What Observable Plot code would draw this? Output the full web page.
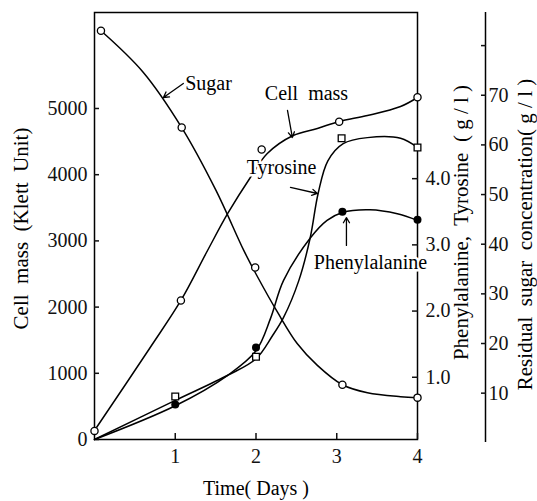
<!DOCTYPE html>
<html><head><meta charset="utf-8">
<script src="https://cdn.jsdelivr.net/npm/d3@7"></script>
<script src="https://cdn.jsdelivr.net/npm/@observablehq/plot@0.6"></script>
<style>body{margin:0;background:#fff}</style>
</head><body><div id="chart"></div>
<script>
// ---- tick labels ----
const xTicks = [1, 2, 3, 4];
const cellTicks = [0, 1000, 2000, 3000, 4000, 5000];
const aminoTicks = [1.0, 2.0, 3.0, 4.0];
const sugarTicks = [10, 20, 30, 40, 50, 60, 70, 80];
const sugarLabeled = [10, 20, 30, 40, 50, 60, 70];

// ---- measured points ----
const cellDays = [0, 1.07, 2.07, 3.03, 4];
const cellMass = [130, 2100, 4380, 4800, 5170];          // Klett unit
const sugarDays = [0.08, 1.08, 1.99, 3.07, 4];
const sugar = [83.0, 63.5, 35.3, 11.7, 9.1];              // g/l
const tyrDays = [1, 2, 3.06, 4];
const tyrosine = [0.71, 1.31, 4.61, 4.47];                // g/l
const pheDays = [1, 2, 3.07, 4];
const phenylalanine = [0.59, 1.45, 3.50, 3.38];           // g/l

// ---- smooth fitted curves ----
const cellFitDays = [0, 0.69, 1.07, 1.40, 1.65, 1.93, 2.14, 2.46, 2.76, 3.03, 3.38, 3.79, 4];
const cellFit = [136, 1390, 2100, 2855, 3414, 3958, 4320, 4592, 4698, 4804, 4894, 5030, 5166];
const sugarFitDays = [0.08, 0.6, 1.08, 1.5, 1.85, 2.0, 2.27, 2.51, 2.76, 3.07, 3.38, 3.79, 4];
const sugarFit = [83.0, 74.7, 63.5, 51.0, 38.7, 34.0, 26.2, 20.0, 15.6, 11.7, 10.1, 9.3, 9.1];
const tyrFitDays = [0, 1.0, 1.65, 2.0, 2.2, 2.34, 2.53, 2.67, 2.77, 2.89, 3.08, 3.38, 3.79, 4];
const tyrFit = [0.06, 0.65, 1.03, 1.28, 1.62, 1.90, 2.46, 3.10, 3.78, 4.27, 4.53, 4.62, 4.61, 4.47];
const pheFitDays = [0, 1.0, 1.65, 2.0, 2.18, 2.34, 2.67, 2.88, 3.07, 3.41, 3.75, 4];
const pheFit = [0.06, 0.57, 1.03, 1.40, 1.89, 2.46, 3.10, 3.37, 3.49, 3.53, 3.47, 3.37];

// ---- annotation labels (centre: day, Klett-unit position) ----
const noteText = ["Sugar", "Cell  mass", "Tyrosine", "Phenylalanine"];
const noteDay = [1.412, 2.625, 2.316, 3.418];
const noteVal = [5378, 5227, 4109, 2674];
const arrowFromDay = [1.10, 2.39, 2.427, 3.12];
const arrowFromVal = [5378, 4970, 3807, 2931];
const arrowToDay = [0.854, 2.45, 2.76, 3.12];
const arrowToVal = [5166, 4562, 3716, 3353];

// secondary axes expressed in the Klett-unit (left) scale
const AA_K = 1000, AA_OFF = -60;
const SUG_K = 75, SUG_OFF = -50;
const aaY = v => v * AA_K + AA_OFF;
const sugY = v => v * SUG_K + SUG_OFF;

const pts = (xs, ys, f = d => d) => xs.map((x, i) => ({x, y: f(ys[i])}));
const notes = noteText.map((t, i) => ({t, x: noteDay[i], y: noteVal[i]}));
const arrows = arrowFromDay.map((d, i) => ({x1: d, y1: arrowFromVal[i], x2: arrowToDay[i], y2: arrowToVal[i]}));

const font = "'Liberation Serif', 'Times New Roman', serif";
const lineOpts = {x: "x", y: "y", stroke: "black", strokeWidth: 1.5, curve: "catmull-rom"};
const titleOpts = {rotate: -90, textAnchor: "middle", lineAnchor: "middle", fontSize: 21, fill: "black", fontFamily: font};

const chart = Plot.plot({
  width: 537, height: 501,
  marginLeft: 94, marginRight: 120, marginTop: 12, marginBottom: 62,
  x: {domain: [0, 4]},
  y: {domain: [0, 6450]},
  style: {fontFamily: font, fontSize: "20px", color: "#111", background: "#fff", overflow: "visible"},
  marks: [
    Plot.frame({stroke: "black", strokeWidth: 1.5}),
    Plot.ruleX([4], {dx: 68, stroke: "black", strokeWidth: 1.5, insetBottom: -3}),
    Plot.axisY({anchor: "left", ticks: cellTicks, tickSize: 5, dx: 5, tickPadding: 7, strokeWidth: 1.5,
      tickFormat: d => String(d), label: null, fontSize: 20, fontFamily: font}),
    Plot.axisY({anchor: "right", ticks: aminoTicks.map(aaY), tickSize: 6, dx: -6, tickPadding: 8, strokeWidth: 1.5,
      tickFormat: d => ((d - AA_OFF) / AA_K).toFixed(1), label: null, fontSize: 20, fontFamily: font}),
    Plot.axisY({anchor: "right", ticks: sugarTicks.map(sugY), tickSize: 5, dx: 63, tickPadding: 3, strokeWidth: 1.5,
      tickFormat: d => { const s = Math.round((d - SUG_OFF) / SUG_K); return sugarLabeled.includes(s) ? String(s) : ""; },
      label: null, fontSize: 20, fontFamily: font}),
    Plot.axisX({anchor: "bottom", ticks: xTicks, tickSize: 6, dy: -6, tickPadding: 9, strokeWidth: 1.5,
      tickFormat: d => String(d), label: null, fontSize: 20, fontFamily: font}),

    Plot.line(pts(cellFitDays, cellFit), lineOpts),
    Plot.line(pts(sugarFitDays, sugarFit, sugY), lineOpts),
    Plot.line(pts(tyrFitDays, tyrFit, aaY), lineOpts),
    Plot.line(pts(pheFitDays, pheFit, aaY), lineOpts),

    Plot.dot(pts(cellDays, cellMass), {x: "x", y: "y", r: 3.6, stroke: "black", fill: "white", strokeWidth: 1.3}),
    Plot.dot(pts(sugarDays, sugar, sugY), {x: "x", y: "y", r: 3.6, stroke: "black", fill: "white", strokeWidth: 1.3}),
    Plot.dot(pts(tyrDays, tyrosine, aaY), {x: "x", y: "y", r: 3.8, symbol: "square", stroke: "black", fill: "white", strokeWidth: 1.3}),
    Plot.dot(pts(pheDays, phenylalanine, aaY), {x: "x", y: "y", r: 4, fill: "black"}),

    Plot.text(notes, {x: "x", y: "y", text: "t", textAnchor: "middle", fill: "black",
      stroke: "white", strokeWidth: 5, fontSize: 20, lineAnchor: "middle", fontFamily: font}),
    Plot.arrow(arrows, {x1: "x1", y1: "y1", x2: "x2", y2: "y2", stroke: "black", strokeWidth: 1.3, headLength: 7, bend: 0}),

    Plot.text(["Cell  mass  (Klett  Unit)"], {...titleOpts, frameAnchor: "left", dx: -73, dy: 2.5}),
    Plot.text(["Phenylalanine,  Tyrosine  ( g / l )"], {...titleOpts, frameAnchor: "right", dx: 44, dy: -3.5}),
    Plot.text(["Residual  sugar  concentration( g / l )"], {...titleOpts, frameAnchor: "right", dx: 108, dy: 8.5}),
    Plot.text(["Time( Days )"], {frameAnchor: "bottom", dx: 0, dy: 49, fontSize: 20, fill: "black",
      textAnchor: "middle", lineAnchor: "middle", fontFamily: font})
  ]
});
document.getElementById("chart").appendChild(chart);
</script>
</body></html>
